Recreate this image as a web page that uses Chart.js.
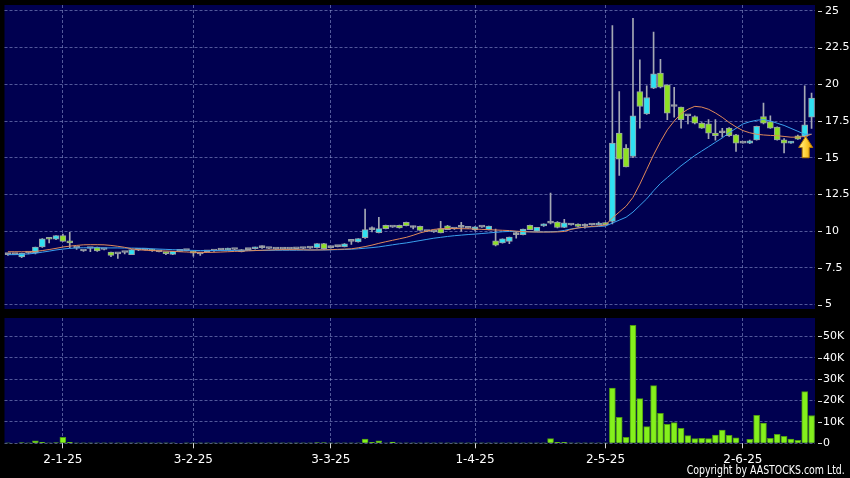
<!DOCTYPE html>
<html>
<head>
<meta charset="utf-8">
<title>Daily chart</title>
<script src="https://cdn.jsdelivr.net/npm/chart.js@4.4.1/dist/chart.umd.min.js"></script>
<style>
  html, body { margin: 0; padding: 0; background: #000; }
  #wrap { position: relative; width: 850px; height: 478px; background: #000; overflow: hidden; }
  #priceChart { position: absolute; left: 0; top: 0; }
  #volChart { position: absolute; left: 0; top: 312px; }
  #copy { position: absolute; right: 5px; top: 463px; color: #fff; white-space: nowrap;
          font: 12px "DejaVu Sans Condensed", sans-serif;
          transform: scaleX(0.87); transform-origin: right center; }
</style>
</head>
<body>
<div id="wrap">
  <canvas id="priceChart" width="850" height="312"></canvas>
  <canvas id="volChart" width="850" height="166"></canvas>
  <div id="copy">Copyright by AASTOCKS.com Ltd.</div>
</div>
<script>
// trading days per month (d-m-yy labels are built from these)
const monthDays = [
  ["12-24", [18, 19, 20, 23, 24, 27, 30, 31]],
  ["1-25", [2, 3, 6, 7, 8, 9, 10, 13, 14, 15, 16, 17, 20, 21, 22, 23, 24, 27, 28]],
  ["2-25", [3, 4, 5, 6, 7, 10, 11, 12, 13, 14, 17, 18, 19, 20, 21, 24, 25, 26, 27, 28]],
  ["3-25", [3, 4, 5, 6, 7, 10, 11, 12, 13, 14, 17, 18, 19, 20, 21, 24, 25, 26, 27, 28, 31]],
  ["4-25", [1, 2, 3, 7, 8, 9, 10, 11, 14, 15, 16, 17, 22, 23, 24, 25, 28, 29, 30]],
  ["5-25", [2, 6, 7, 8, 9, 12, 13, 14, 15, 16, 19, 20, 21, 22, 23, 26, 27, 28, 29, 30]],
  ["6-25", [2, 3, 4, 5, 6, 9, 10, 11, 12, 13, 16]]
];
const tickLabels = ["2-1-25", "3-2-25", "3-3-25", "1-4-25", "2-5-25", "2-6-25"];
const priceTicks = [5, 7.5, 10, 12.5, 15, 17.5, 20, 22.5, 25];
const volTicks = [0, 10, 20, 30, 40, 50]; // thousands

const opens = [
  8.4, 8.4, 8.25, 8.5, 8.52, 8.92, 9.5, 9.45, 9.7, 9.35,
  8.85, 8.65, 8.82, 8.92, 8.75, 8.58, 8.45, 8.55, 8.4, 8.7,
  8.72, 8.75, 8.6, 8.55, 8.42, 8.62, 8.68, 8.62, 8.45, 8.6,
  8.65, 8.72, 8.72, 8.75, 8.6, 8.74, 8.8, 8.88, 8.82, 8.78,
  8.78, 8.78, 8.8, 8.82, 8.85, 8.88, 9.15, 8.88, 8.95, 8.95,
  9.3, 9.27, 9.55, 10.1, 9.9, 10.4, 10.28, 10.4, 10.6, 10.25,
  10.33, 9.98, 9.95, 10.17, 10.37, 10.15, 10.26, 10.2, 10.1, 10.28,
  10.1, 9.35, 9.2, 9.3, 9.76, 9.76, 10.4, 10.0, 10.35, 10.55,
  10.62, 10.26, 10.42, 10.48, 10.35, 10.42, 10.42, 10.55, 10.67, 16.68,
  15.66, 15.09, 19.51, 17.99, 19.74, 20.76, 19.97, 18.49, 18.45, 17.86,
  17.81, 17.36, 17.31, 16.68, 16.7, 17.02, 16.56, 16.0, 16.0, 16.22,
  17.81, 17.47, 17.09, 16.22, 16.0, 16.5, 16.45, 17.77
];
const highs = [
  8.45, 8.4, 8.5, 8.55, 8.92, 9.5, 9.55, 9.7, 9.8, 9.92,
  8.88, 8.7, 8.85, 8.92, 8.78, 8.58, 8.48, 8.58, 8.75, 8.72,
  8.75, 8.78, 8.62, 8.56, 8.62, 8.64, 8.7, 8.65, 8.48, 8.62,
  8.67, 8.75, 8.85, 8.78, 8.75, 8.76, 8.92, 9.0, 8.84, 8.8,
  8.8, 8.8, 8.82, 8.86, 8.88, 9.15, 9.18, 8.9, 8.98, 9.15,
  9.32, 9.5, 11.5, 10.3, 10.95, 10.42, 10.3, 10.42, 10.62, 10.35,
  10.35, 10.0, 9.98, 10.67, 10.4, 10.18, 10.6, 10.22, 10.32, 10.3,
  10.35, 10.15, 9.47, 9.6, 9.98, 10.15, 10.42, 10.26, 10.5, 12.6,
  10.65, 10.8, 10.45, 10.5, 10.5, 10.45, 10.62, 10.58, 24.0, 19.5,
  15.9, 24.5, 21.67, 19.9, 23.55, 21.7, 19.97, 19.8, 18.45, 17.9,
  17.85, 17.4, 17.6, 17.6, 17.0, 17.05, 16.6, 16.0, 16.2, 17.15,
  18.72, 17.86, 17.1, 16.3, 16.12, 16.55, 19.9, 19.4
];
const lows = [
  8.35, 8.4, 8.2, 8.45, 8.45, 8.9, 9.2, 9.42, 9.3, 8.86,
  8.75, 8.62, 8.6, 8.62, 8.72, 8.27, 8.15, 8.45, 8.4, 8.68,
  8.7, 8.62, 8.58, 8.4, 8.4, 8.6, 8.66, 8.3, 8.35, 8.58,
  8.62, 8.7, 8.7, 8.72, 8.58, 8.72, 8.78, 8.82, 8.8, 8.76,
  8.76, 8.75, 8.78, 8.8, 8.82, 8.85, 8.75, 8.85, 8.92, 8.92,
  9.1, 9.25, 9.5, 9.95, 9.88, 10.15, 10.26, 10.2, 10.35, 10.15,
  10.05, 9.96, 9.92, 9.88, 10.1, 10.12, 10.0, 10.18, 10.05, 10.26,
  10.08, 9.0, 9.18, 9.15, 9.53, 9.74, 10.1, 9.98, 10.33, 10.5,
  10.22, 10.24, 10.4, 10.3, 10.2, 10.4, 10.4, 10.42, 10.5, 13.8,
  14.37, 15.0, 17.02, 17.95, 19.7, 19.75, 17.6, 17.77, 17.02, 17.3,
  17.3, 17.0, 16.3, 16.2, 16.4, 16.45, 15.43, 16.0, 15.95, 16.2,
  17.3, 17.0, 16.2, 15.32, 15.98, 16.25, 16.4, 17.0
];
const closes = [
  8.4, 8.4, 8.5, 8.5, 8.92, 9.47, 9.45, 9.7, 9.3, 9.2,
  8.85, 8.65, 8.82, 8.65, 8.75, 8.35, 8.45, 8.55, 8.74, 8.7,
  8.72, 8.65, 8.6, 8.47, 8.62, 8.62, 8.68, 8.5, 8.45, 8.6,
  8.65, 8.72, 8.82, 8.75, 8.74, 8.74, 8.9, 8.88, 8.82, 8.78,
  8.78, 8.78, 8.8, 8.82, 8.85, 9.15, 8.8, 8.88, 8.95, 9.13,
  9.3, 9.5, 10.1, 10.1, 10.17, 10.17, 10.28, 10.22, 10.37, 10.25,
  10.05, 9.98, 9.95, 9.88, 10.1, 10.15, 10.26, 10.2, 10.3, 10.28,
  10.35, 9.05, 9.47, 9.6, 9.76, 10.15, 10.1, 10.26, 10.5, 10.55,
  10.25, 10.56, 10.42, 10.33, 10.35, 10.42, 10.55, 10.45, 16.0, 14.91,
  14.37, 17.86, 18.49, 19.1, 20.71, 19.8, 18.04, 18.49, 17.59, 17.86,
  17.36, 17.02, 16.68, 16.5, 16.7, 16.5, 16.0, 16.0, 16.15, 17.13,
  17.36, 17.02, 16.22, 16.0, 16.1, 16.27, 17.24, 19.06
];
// volume in thousands of shares
const volumes = [
  0.1, 0, 0.3, 0.1, 1.1, 0.4, 0.2, 0.3, 2.8, 0.4,
  0.1, 0.1, 0.1, 0.2, 0.1, 0.2, 0.1, 0.1, 0.2, 0.1,
  0.1, 0.1, 0.1, 0.1, 0.2, 0, 0.1, 0.1, 0.1, 0.1,
  0.1, 0.1, 0.1, 0.1, 0.1, 0.1, 0.1, 0.1, 0.1, 0.1,
  0.1, 0.1, 0.1, 0.1, 0.1, 0.3, 0.3, 0.1, 0.1, 0.2,
  0.1, 0.2, 2.0, 0.4, 1.2, 0.2, 0.6, 0.2, 0.2, 0.1,
  0.2, 0.1, 0.1, 0.2, 0.1, 0.1, 0.1, 0.1, 0.1, 0.1,
  0.1, 0.2, 0.1, 0.1, 0.1, 0.1, 0.1, 0.1, 0.1, 2.2,
  0.4, 0.4, 0.1, 0.1, 0.1, 0.1, 0.2, 0.2, 25.8, 12.2,
  2.8, 55.2, 20.9, 7.8, 27, 14, 8.9, 9.7, 7, 3.6,
  2.2, 2.3, 2.2, 3.9, 6.2, 3.7, 2.5, 0, 1.9, 13.1,
  9.4, 2.3, 4.2, 3.3, 2.0, 1.4, 24.2, 13.0
];
// moving averages as drawn on the chart (orange short, blue long)
const maShort = [
  8.6, 8.6, 8.6, 8.6, 8.62, 8.68, 8.75, 8.83, 8.92, 8.98,
  9.03, 9.07, 9.08, 9.08, 9.07, 9.03, 8.97, 8.9, 8.8, 8.74,
  8.7, 8.68, 8.66, 8.65, 8.63, 8.6, 8.58, 8.56, 8.55, 8.55,
  8.56, 8.58, 8.6, 8.62, 8.64, 8.66, 8.68, 8.7, 8.72, 8.73,
  8.74, 8.74, 8.74, 8.73, 8.72, 8.72, 8.73, 8.74, 8.76, 8.78,
  8.8, 8.87, 8.95, 9.05, 9.17, 9.28, 9.38, 9.48, 9.58, 9.72,
  9.88, 10.0, 10.12, 10.16, 10.18, 10.18, 10.17, 10.16, 10.15, 10.12,
  10.1, 10.08, 10.06, 10.04, 10.0, 9.97, 9.95, 9.94, 9.94, 9.94,
  9.95, 9.98, 10.12, 10.22, 10.28, 10.32, 10.36, 10.42, 10.9, 11.3,
  11.7, 12.3, 13.2, 14.2, 15.2, 16.1, 16.9, 17.5, 18.0, 18.3,
  18.5, 18.45, 18.3, 18.05, 17.75, 17.4, 17.1, 16.85, 16.7, 16.6,
  16.55, 16.52, 16.5, 16.45, 16.4, 16.4, 16.45, 16.6
];
const maLong = [
  8.4, 8.4, 8.42, 8.45, 8.5, 8.57, 8.64, 8.72, 8.78, 8.83,
  8.86, 8.87, 8.87, 8.87, 8.86, 8.86, 8.86, 8.85, 8.85, 8.84,
  8.83, 8.8, 8.78, 8.76, 8.74, 8.72, 8.7, 8.69, 8.68, 8.68,
  8.68, 8.68, 8.68, 8.68, 8.68, 8.68, 8.68, 8.69, 8.69, 8.7,
  8.7, 8.7, 8.7, 8.71, 8.71, 8.72, 8.72, 8.73, 8.74, 8.75,
  8.77, 8.8, 8.84, 8.88, 8.93, 9.0, 9.07, 9.14, 9.2, 9.28,
  9.36, 9.44, 9.52, 9.58, 9.64, 9.69, 9.73, 9.77, 9.8, 9.84,
  9.88, 9.92, 9.96, 9.98, 9.98, 9.97, 9.96, 9.95, 9.95, 9.96,
  9.98, 10.05, 10.15, 10.22, 10.27, 10.3, 10.32, 10.35, 10.55, 10.75,
  10.95, 11.3, 11.75, 12.2, 12.75, 13.25, 13.65, 14.05, 14.45, 14.8,
  15.15, 15.45, 15.75, 16.05, 16.35, 16.7, 17.0, 17.3, 17.45, 17.55,
  17.6, 17.5, 17.35, 17.2, 17.0, 16.8, 16.6, 16.6
];
// yellow marker under the latest signal candle
const arrowMark = { index: 116, tip: 16.45, base: 15.0 };

const dates = [];
monthDays.forEach(([monthYear, days]) => days.forEach(d => dates.push(d + "-" + monthYear)));

const gridColor = "rgba(150,160,215,0.55)";
const upColor = "#30e2f2";
const downColor = "#8ee024";
const flatColor = "#a8a8a8";

// only keep the month-start ticks (and their grid lines)
function keepMonthTicks(axis) {
    axis.ticks = axis.ticks.filter(t => tickLabels.includes(dates[t.value]));
}
// fixed axis size, and no extra room for half-labels at the ends
function fixWidth(axis) {
    axis.width = 35;
    axis.paddingTop = 0;
    axis.paddingBottom = 0;
}

// black background, navy panel, short tick marks next to the right labels
const panelBg = {
    id: "panelBg",
    beforeDraw(chart) {
        const {ctx, chartArea: a} = chart;
        ctx.save();
        ctx.fillStyle = "#000";
        ctx.fillRect(0, 0, chart.width, chart.height);
        ctx.fillStyle = "#000050";
        ctx.fillRect(a.left, a.top, a.right - a.left, a.bottom - a.top);
        ctx.restore();
    },
    afterDraw(chart) {
        const {ctx, chartArea: a} = chart;
        const yScale = chart.scales.y;
        ctx.save();
        ctx.strokeStyle = "#d8d8d8";
        ctx.lineWidth = 1;
        yScale.ticks.forEach(t => {
            const py = Math.round(yScale.getPixelForValue(t.value)) + 0.5;
            ctx.beginPath();
            ctx.moveTo(a.right + 3, py);
            ctx.lineTo(a.right + 7, py);
            ctx.stroke();
        });
        ctx.restore();
    }
};

const arrowPlugin = {
    id: "arrowPlugin",
    afterDatasetsDraw(chart) {
        const {ctx} = chart;
        const x = chart.scales.x.getPixelForValue(arrowMark.index) + 1;
        const yTip = chart.scales.y.getPixelForValue(arrowMark.tip);
        const yBase = chart.scales.y.getPixelForValue(arrowMark.base);
        const headH = 11;
        const grad = ctx.createLinearGradient(x - 7, 0, x + 7, 0);
        grad.addColorStop(0, "#fff2a0");
        grad.addColorStop(0.5, "#ffd23a");
        grad.addColorStop(1, "#e89c00");
        ctx.save();
        ctx.beginPath();
        ctx.moveTo(x, yTip);
        ctx.lineTo(x + 7, yTip + headH);
        ctx.lineTo(x + 3.5, yTip + headH);
        ctx.lineTo(x + 3.5, yBase);
        ctx.lineTo(x - 3.5, yBase);
        ctx.lineTo(x - 3.5, yTip + headH);
        ctx.lineTo(x - 7, yTip + headH);
        ctx.closePath();
        ctx.fillStyle = grad;
        ctx.fill();
        ctx.strokeStyle = "#b87c00";
        ctx.lineWidth = 1;
        ctx.stroke();
        ctx.restore();
    }
};

const xGrid = {
    offset: true,
    grid: {offset: false, color: gridColor, borderDash: [3, 2], drawTicks: false},
    border: {display: false, dash: [3, 2]},
    afterBuildTicks: keepMonthTicks
};

new Chart(document.getElementById("priceChart"), {
    type: "bar",
    data: {
        labels: dates,
        datasets: [
            {type: "line", data: maShort, borderColor: "#e0895a", borderWidth: 1, pointRadius: 0, order: 0},
            {type: "line", data: maLong, borderColor: "#3aa0ee", borderWidth: 1, pointRadius: 0, order: 0},
            {
                data: opens.map((o, i) => [o, closes[i]]),
                barThickness: 6,
                minBarLength: 2,
                grouped: false,
                borderSkipped: false,
                borderWidth: 1,
                borderColor: "#98a0a6",
                backgroundColor: ctx => {
                    const o = opens[ctx.dataIndex], c = closes[ctx.dataIndex];
                    return c > o ? upColor : (c < o ? downColor : flatColor);
                },
                order: 1
            },
            {
                data: lows.map((l, i) => [l, highs[i]]),
                barThickness: 1,
                grouped: false,
                backgroundColor: "#a4a8b4",
                order: 2
            }
        ]
    },
    options: {
        responsive: false,
        animation: false,
        layout: {padding: {top: 5, left: 4.5, right: 0, bottom: 3}},
        plugins: {legend: {display: false}, tooltip: {enabled: false}},
        scales: {
            x: Object.assign({}, xGrid, {
                ticks: {display: false, autoSkip: false},
                afterFit: axis => { axis.height = 0; axis.paddingLeft = 0; axis.paddingRight = 0; }
            }),
            y: {
                position: "right",
                min: 4.7,
                max: 25.4,
                afterBuildTicks: axis => { axis.ticks = priceTicks.map(v => ({value: v})); },
                afterFit: fixWidth,
                grid: {color: gridColor, borderDash: [3, 2], drawTicks: false},
                border: {display: false, dash: [3, 2]},
                ticks: {color: "#fff", padding: 10, font: {family: "DejaVu Sans", size: 11}, callback: v => String(v)}
            }
        }
    },
    plugins: [panelBg, arrowPlugin]
});

new Chart(document.getElementById("volChart"), {
    type: "bar",
    data: {
        labels: dates,
        datasets: [{
            data: volumes,
            barThickness: 6,
            backgroundColor: "#84f01c",
            borderColor: "#4e9a12",
            borderWidth: 1
        }]
    },
    options: {
        responsive: false,
        animation: false,
        layout: {padding: {top: 6, left: 4.5, right: 0, bottom: 0}},
        plugins: {legend: {display: false}, tooltip: {enabled: false}},
        scales: {
            x: Object.assign({}, xGrid, {
                grid: {offset: false, color: gridColor, borderDash: [3, 2], drawTicks: true, tickLength: 5, tickColor: "#d8d8d8"},
                ticks: {color: "#fff", autoSkip: false, maxRotation: 0, padding: 4, font: {family: "DejaVu Sans", size: 12}},
                afterFit: axis => { axis.height = 34.7; axis.paddingLeft = 0; axis.paddingRight = 0; }
            }),
            y: {
                position: "right",
                min: 0,
                max: 58.6,
                afterBuildTicks: axis => { axis.ticks = volTicks.map(v => ({value: v})); },
                afterFit: fixWidth,
                grid: {color: gridColor, borderDash: [3, 2], drawTicks: false},
                border: {display: false, dash: [3, 2]},
                ticks: {color: "#fff", padding: 8, font: {family: "DejaVu Sans", size: 11}, callback: v => v === 0 ? "0" : v + "K"}
            }
        }
    },
    plugins: [panelBg]
});
</script>
</body>
</html>
